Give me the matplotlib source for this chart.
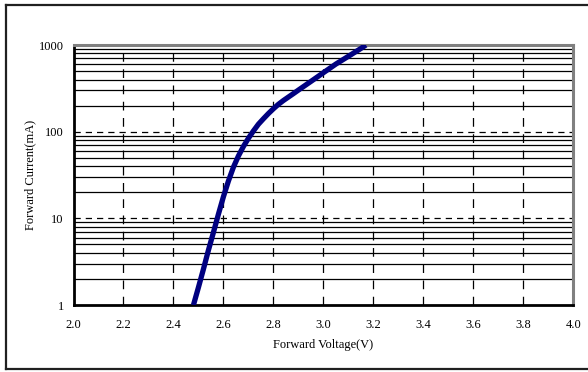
import matplotlib.pyplot as plt
from matplotlib.lines import Line2D
from matplotlib.ticker import LogLocator

plt.rcParams['font.family'] = ['Liberation Serif', 'DejaVu Serif']

# forward voltage (V) vs forward current (mA)
vf = [2.48, 2.50, 2.52, 2.54, 2.56, 2.58, 2.60, 2.62, 2.64, 2.66,
      2.68, 2.70, 2.72, 2.74, 2.76, 2.78, 2.80, 2.82, 2.84, 2.86,
      2.88, 2.90, 2.95, 3.00, 3.05, 3.10, 3.15, 3.17]
i_f = [1.0, 1.6, 2.6, 4.3, 6.9, 11.2, 17.8, 27, 39, 52.5,
       67.6, 84, 102, 122, 141, 162, 184, 207, 229, 251,
       275, 302, 380, 479, 603, 741, 912, 1000]

xticks = [2.0, 2.2, 2.4, 2.6, 2.8, 3.0, 3.2, 3.4, 3.6, 3.8, 4.0]
yticks = [1, 10, 100, 1000]
ytick_labels = ['1', '10', '100', '1000']

fig = plt.figure(figsize=(5.88, 3.72), dpi=100)
ax = fig.add_axes([0.125, 0.180, 0.850, 0.699])

# outer frame, open on the right
for xs, ys in [([0.011, 1.0], [0.987, 0.987]),
               ([0.011, 0.011], [0.987, 0.008]),
               ([0.011, 1.0], [0.008, 0.008])]:
    fig.add_artist(Line2D(xs, ys, transform=fig.transFigure, color='#202020', lw=1.6))

ax.set_yscale('log')
ax.set_xlim(2.0, 4.0)
ax.set_ylim(1, 1000)

ax.set_xticks(xticks)
ax.set_xticklabels([f'{t:.1f}' for t in xticks])
ax.set_yticks(yticks)
ax.set_yticklabels(ytick_labels)
ax.yaxis.set_minor_locator(LogLocator(base=10, subs=range(2, 10)))
ax.yaxis.set_minor_formatter(plt.NullFormatter())
ax.tick_params(which='both', length=0, labelsize=9)
ax.tick_params(axis='x', pad=10)
ax.tick_params(axis='y', pad=7)

# grid: dashed verticals, dashed decades, solid minor lines
for x in xticks[1:-1]:
    ax.axvline(x, color='black', lw=0.9, dashes=(7, 6), zorder=1)
for y in [10, 100]:
    ax.axhline(y, color='black', lw=0.9, dashes=(5, 4), zorder=1)
ax.grid(which='minor', axis='y', color='black', lw=0.9, ls='-')

ax.plot(vf, i_f, color='#000080', lw=3.8, solid_capstyle='butt', zorder=3)

ax.spines['left'].set_color('black')
ax.spines['bottom'].set_color('black')
ax.spines['left'].set_linewidth(2)
ax.spines['bottom'].set_linewidth(2)
ax.spines['top'].set_color('#808080')
ax.spines['right'].set_color('#808080')
ax.spines['top'].set_linewidth(2.2)
ax.spines['right'].set_linewidth(2.2)

ax.set_xlabel('Forward Voltage(V)', fontsize=9, labelpad=6)
ax.set_ylabel('Forward Current(mA)', fontsize=9, labelpad=1.5)

fig.savefig('out.png', dpi=100)
